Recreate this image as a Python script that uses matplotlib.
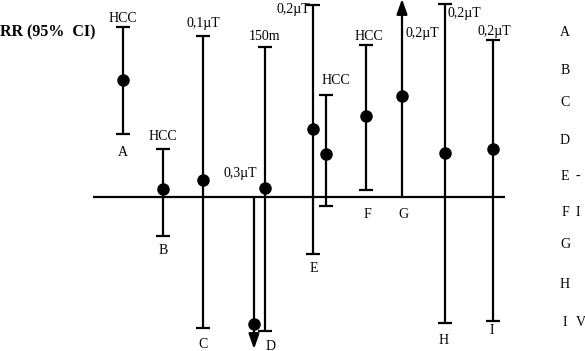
import matplotlib
matplotlib.use("Agg")
import matplotlib.pyplot as plt

# ---- data (arbitrary log-RR units, 0 = RR of 1) ----
study_pos = [123, 163, 203, 254, 265, 313, 326, 366, 402, 445, 493]
estimates = [1.17, 0.08, 0.17, -1.27, 0.09, 0.68, 0.43, 0.81, 1.01, 0.44, 0.48]
lower     = [0.63, -0.39, -1.31, -1.52, -1.34, -0.57, -0.09, 0.07, 0.00, -1.26, -1.24]
upper     = [1.70, 0.48, 1.61, 0.00, 1.50, 1.92, 1.02, 1.52, 1.98, 1.93, 1.57]
open_end  = ["", "", "", "down", "", "", "", "", "up", "", ""]
exposure_labels = ["HCC", "HCC", "0,1\u00b5T", "0,3\u00b5T", "150m", "0,2\u00b5T",
                   "HCC", "HCC", "0,2\u00b5T", "0,2\u00b5T", "0,2\u00b5T"]
study_letters = ["A", "B", "C", "D", "E", "F", "G", "H", "I"]
letter_anchor = [0, 1, 2, 4, 5, 7, 8, 9, 10]   # which interval each letter sits under

FONT = "Liberation Serif"
fig = plt.figure(figsize=(5.85, 3.51), dpi=100)
ax = fig.add_axes([0, 0, 1, 1])
ax.set_xlim(0, 585)
ax.set_ylim(-1.54, 1.97)
ax.axis("off")

lw = 1.6
# reference line (RR = 1)
ax.plot([93, 505], [0, 0], color="black", lw=lw, solid_capstyle="butt")

arrow = dict(arrowstyle="-|>,head_length=0.9,head_width=0.32",
             color="black", lw=lw, shrinkA=0, shrinkB=0, mutation_scale=10)
for i, x in enumerate(study_pos):
    lo, hi, est = lower[i], upper[i], estimates[i]
    if open_end[i] == "up":
        ax.annotate("", xy=(x, hi), xytext=(x, lo), arrowprops=arrow,
                    annotation_clip=False)
    elif open_end[i] == "down":
        ax.annotate("", xy=(x, lo), xytext=(x, hi), arrowprops=arrow,
                    annotation_clip=False)
    else:
        ax.errorbar([x], [est], yerr=[[est - lo], [hi - est]], fmt="none",
                    ecolor="black", elinewidth=lw, capsize=5, capthick=lw)
    ax.plot([x], [est], "o", color="black", ms=8, zorder=5)

# exposure labels: offset (dx, dy) in pixels from the upper end, alignment
label_style = [
    (0, 9, "center"),
    (0, 13, "center"),
    (0, 12, "center"),
    (-14, 23, "center"),
    (-1, 10, "center"),
    (-3, -5, "right"),
    (10, 14, "center"),
    (3, 8, "center"),
    (3, -35, "left"),
    (3, -9, "left"),
    (1, 8, "center"),
]
for i, (dx, dy, ha) in enumerate(label_style):
    ax.annotate(exposure_labels[i], xy=(study_pos[i], upper[i]), xytext=(dx, dy),
                textcoords="offset pixels", ha=ha, va="center",
                fontsize=10, family=FONT, annotation_clip=False)

# study letters beneath intervals
letter_offsets = [(0, -19), (0, -14), (0, -16), (6, -15), (1, -15),
                  (1, -25), (1, -18), (-1, -17), (-1, -9)]
for k, letter in enumerate(study_letters):
    i = letter_anchor[k]
    dx, dy = letter_offsets[k]
    ax.annotate(letter, xy=(study_pos[i], lower[i]), xytext=(dx, dy),
                textcoords="offset pixels", ha="center", va="center",
                fontsize=10, family=FONT, annotation_clip=False)

# right-hand key letters
key_rows = [32, 70, 102, 140, 176, 213, 244, 284, 323]
key_tail = ["", "", "", "", "-", "I", "", "", "V"]
for letter, py, tail in zip(study_letters, key_rows, key_tail):
    fig.text(565 / 585, 1 - py / 351, letter, ha="center", va="center",
             fontsize=10, family=FONT)
    if tail:
        fig.text(576 / 585, 1 - py / 351, tail, ha="left", va="center",
                 fontsize=10, family=FONT)

fig.text(0.5 / 585, 1 - 32 / 351, "RR (95%  CI)", ha="left", va="center",
         fontsize=11.5, fontweight="bold", family=FONT)

fig.savefig("out.png", dpi=100)
